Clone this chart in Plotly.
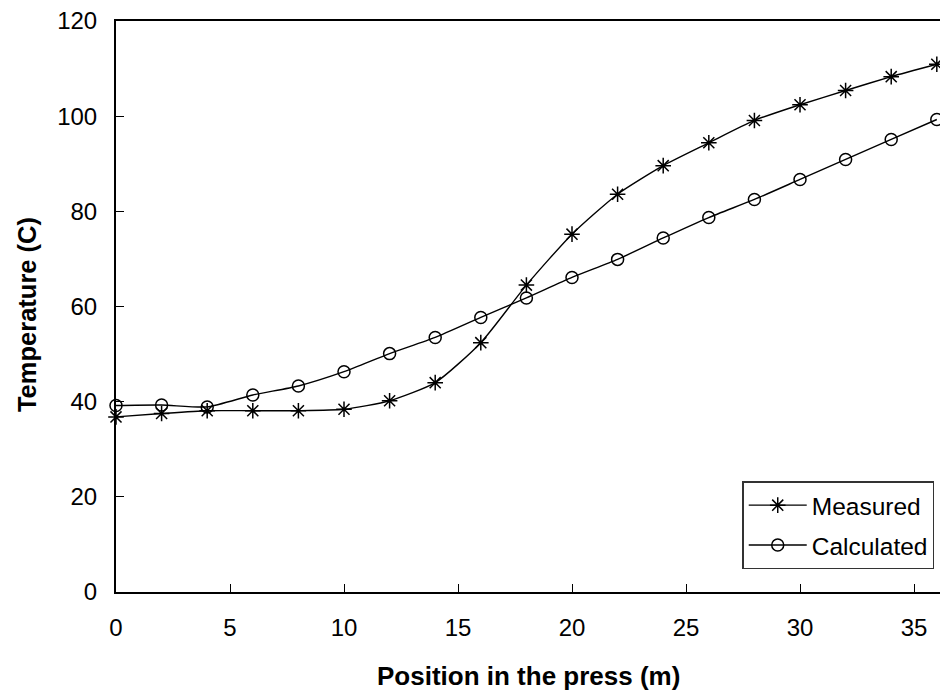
import plotly.graph_objects as go

# Position along the press (m)
position = [0, 2, 4, 6, 8, 10, 12, 14, 16, 18, 20, 22, 24, 26, 28, 30, 32, 34, 36]

# Temperatures (C)
measured = [36.8, 37.5, 38.1, 38.1, 38.1, 38.4, 40.2, 44.0, 52.4, 64.5, 75.2, 83.6,
            89.6, 94.4, 99.1, 102.4, 105.4, 108.3, 110.9]
calculated = [39.2, 39.3, 38.9, 41.4, 43.3, 46.3, 50.1, 53.5, 57.7, 61.8, 66.1, 69.9,
              74.4, 78.7, 82.5, 86.7, 90.9, 95.1, 99.3]

x_ticks = [0, 5, 10, 15, 20, 25, 30, 35]
y_ticks = [0, 20, 40, 60, 80, 100, 120]

FONT = "Liberation Sans, Arial, sans-serif"

fig = go.Figure()
fig.add_trace(go.Scatter(
    x=position, y=measured, name="Measured", mode="lines+markers",
    legendgroup="m", cliponaxis=False,
    line=dict(color="black", width=1.4, shape="spline", smoothing=0.6),
    marker=dict(symbol="asterisk-open", size=13, color="black",
                line=dict(color="black", width=1.5)),
))
fig.add_trace(go.Scatter(
    x=position, y=calculated, name="Calculated", mode="lines+markers",
    legendgroup="c", cliponaxis=False,
    line=dict(color="black", width=1.4, shape="spline", smoothing=0.6),
    marker=dict(symbol="circle-open", size=12, color="black",
                line=dict(color="black", width=1.5)),
))

fig.update_layout(
    width=940, height=692,
    margin=dict(l=116, r=0, t=21, b=100),
    paper_bgcolor="white", plot_bgcolor="white",
    font=dict(family=FONT, size=24, color="black"),
    showlegend=True,
    legend=dict(
        x=0.993, y=0.194, xanchor="right", yanchor="top",
        bgcolor="white", bordercolor="#333", borderwidth=1.5,
        font=dict(family=FONT, size=24.5, color="black"),
        itemwidth=58, traceorder="grouped", tracegroupgap=5,
    ),
    xaxis=dict(
        range=[0, 36.14], tickvals=x_ticks, ticks="inside", ticklen=8,
        tickwidth=1.3, tickcolor="black", showline=True, linecolor="black",
        linewidth=2, mirror=True, showgrid=False, zeroline=False,
        ticklabelstandoff=13,
        tickfont=dict(family=FONT, size=24, color="black"),
    ),
    yaxis=dict(
        range=[0, 120], tickvals=y_ticks, ticks="inside", ticklen=8,
        tickwidth=1.3, tickcolor="black", showline=True, linecolor="black",
        linewidth=2, showgrid=False, zeroline=False,
        ticklabelstandoff=12,
        tickfont=dict(family=FONT, size=24, color="black"),
    ),
    annotations=[
        dict(text="<b>Position in the press (m)</b>", xref="paper", yref="paper",
             x=0.5, y=0, yshift=-84, xanchor="center", yanchor="middle",
             showarrow=False, font=dict(family=FONT, size=26, color="black")),
        dict(text="<b>Temperature (C)</b>", xref="paper", yref="paper",
             x=0, xshift=-89, y=0.485, xanchor="center", yanchor="middle",
             textangle=-90, showarrow=False,
             font=dict(family=FONT, size=25.5, color="black")),
    ],
)

fig.write_html("out.html")
